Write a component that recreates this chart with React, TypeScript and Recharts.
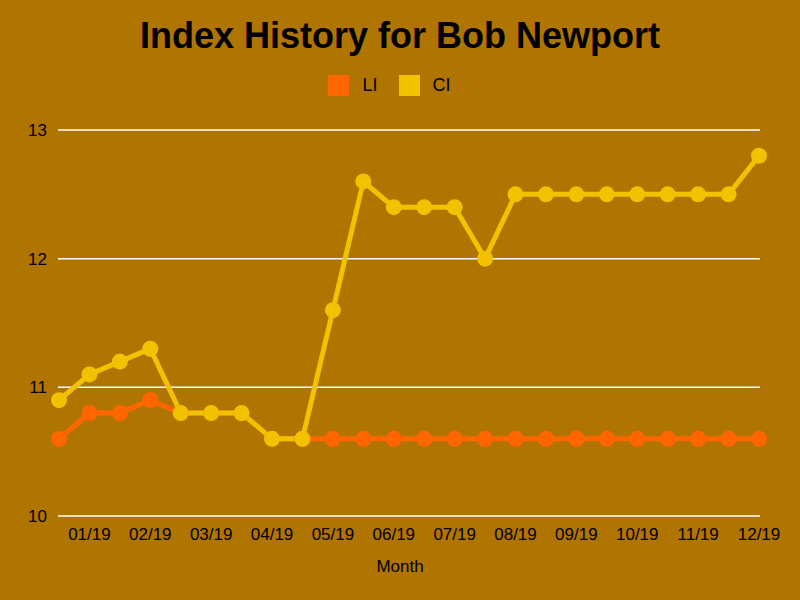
import { CartesianGrid, Line, LineChart, XAxis, YAxis } from "recharts";

const periods = [
  "01/19 mid", "01/19", "02/19 mid", "02/19", "03/19 mid", "03/19",
  "04/19 mid", "04/19", "05/19 mid", "05/19", "06/19 mid", "06/19",
  "07/19 mid", "07/19", "08/19 mid", "08/19", "09/19 mid", "09/19",
  "10/19 mid", "10/19", "11/19 mid", "11/19", "12/19 mid", "12/19",
];
const monthTicks = [
  "01/19", "02/19", "03/19", "04/19", "05/19", "06/19",
  "07/19", "08/19", "09/19", "10/19", "11/19", "12/19",
];
const li = [
  10.6, 10.8, 10.8, 10.9, 10.8, 10.8, 10.8, 10.6, 10.6, 10.6, 10.6, 10.6,
  10.6, 10.6, 10.6, 10.6, 10.6, 10.6, 10.6, 10.6, 10.6, 10.6, 10.6, 10.6,
];
const ci = [
  10.9, 11.1, 11.2, 11.3, 10.8, 10.8, 10.8, 10.6, 10.6, 11.6, 12.6, 12.4,
  12.4, 12.4, 12.0, 12.5, 12.5, 12.5, 12.5, 12.5, 12.5, 12.5, 12.5, 12.8,
];
const yTicks = [10, 11, 12, 13];

const series = [
  { key: "LI", color: "#ff6600" },
  { key: "CI", color: "#f2c200" },
];
const BG = "#b07400";
const FONT = "'Liberation Sans', Arial, sans-serif";

const data = periods.map((p, i) => ({ period: p, LI: li[i], CI: ci[i] }));

export default function App() {
  return (
    <div style={{ width: 800, height: 600, background: BG, position: "relative", fontFamily: FONT }}>
      <style>{`body{margin:0}`}</style>
      <div
        style={{
          position: "absolute",
          top: 15,
          left: 0,
          width: 800,
          textAlign: "center",
          fontSize: 36,
          fontWeight: "bold",
          color: "#000",
        }}
      >
        Index History for Bob Newport
      </div>
      <div
        style={{
          position: "absolute",
          top: 75,
          left: 0,
          width: 800,
          display: "flex",
          justifyContent: "center",
          paddingRight: 21,
          boxSizing: "border-box",
        }}
      >
        {series.map((s, i) => (
          <div key={s.key} style={{ display: "flex", alignItems: "center", marginLeft: i ? 21 : 0 }}>
            <span style={{ width: 21, height: 21, background: s.color, display: "inline-block" }} />
            <span style={{ marginLeft: 13, fontSize: 18, color: "#000" }}>{s.key}</span>
          </div>
        ))}
      </div>
      <LineChart
        width={800}
        height={600}
        data={data}
        margin={{ top: 130, right: 40, bottom: 24, left: 18 }}
      >
        <CartesianGrid vertical={false} stroke="#ffffff" strokeWidth={1.5} />
        <XAxis
          dataKey="period"
          ticks={monthTicks}
          interval={0}
          axisLine={false}
          tickLine={false}
          tickSize={0}
          tickMargin={12}
          height={60}
          padding={{ left: 1, right: 1 }}
          tick={{ fill: "#000", fontSize: 17, fontFamily: FONT }}
          label={{ value: "Month", position: "insideBottom", offset: 4, dx: -9, fill: "#000", fontSize: 17, fontFamily: FONT }}
        />
        <YAxis
          domain={[10, 13]}
          ticks={yTicks}
          width={40}
          axisLine={false}
          tickLine={false}
          tickSize={0}
          tickMargin={11}
          tick={{ fill: "#000", fontSize: 17, fontFamily: FONT }}
        />
        {series.map((s) => (
          <Line
            key={s.key}
            dataKey={s.key}
            stroke={s.color}
            strokeWidth={5}
            dot={{ r: 8, fill: s.color, stroke: "none" }}
            activeDot={false}
            isAnimationActive={false}
          />
        ))}
      </LineChart>
    </div>
  );
}
